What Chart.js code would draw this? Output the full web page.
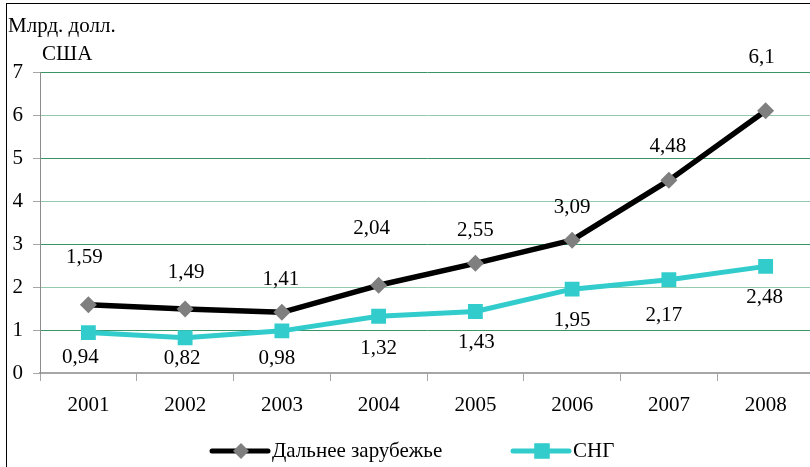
<!DOCTYPE html>
<html>
<head>
<meta charset="utf-8">
<script src="https://cdn.jsdelivr.net/npm/chart.js@4"></script>
<style>
  html, body { margin: 0; padding: 0; background: #fff; overflow: hidden; }
  #wrap { width: 830px; height: 467px; }
</style>
</head>
<body>
<div id="wrap"><canvas id="chart" width="830" height="467"></canvas></div>
<script>
// ===== данные =====
const years = ["2001", "2002", "2003", "2004", "2005", "2006", "2007", "2008"];
const dalneeZarubezhye = [1.59, 1.49, 1.41, 2.04, 2.55, 3.09, 4.48, 6.1];
const sng = [0.94, 0.82, 0.98, 1.32, 1.43, 1.95, 2.17, 2.48];
const yTicks = [0, 1, 2, 3, 4, 5, 6, 7];
const seriesNames = ["Дальнее зарубежье", "СНГ"];
const axisTitle = ["Млрд. долл.", "США"];

const FONT = "21px 'Liberation Serif', 'Times New Roman', serif";
const fmt = (v) => String(v).replace(".", ",");

// сдвиг подписей относительно точек (px), как в оригинале
const labelShift = [
  [[-4, -47], [1, -36], [-1, -33], [-7, -57], [0, -33], [0, -33], [-1, -34], [-4, -53]],
  [[-8, 25], [-3, 21], [-5, 28], [0, 32], [1, 31], [0, 31], [-5, 36], [-1, 31]],
];

// подписи значений
const valueLabels = {
  id: "valueLabels",
  afterDatasetsDraw(chart) {
    const ctx = chart.ctx;
    ctx.save();
    ctx.font = FONT;
    ctx.fillStyle = "#000";
    ctx.textAlign = "center";
    ctx.textBaseline = "middle";
    chart.data.datasets.forEach((ds, di) => {
      chart.getDatasetMeta(di).data.forEach((pt, i) => {
        const [dx, dy] = labelShift[di][i];
        ctx.fillText(fmt(ds.data[i]), pt.x + dx, pt.y + dy);
      });
    });
    ctx.restore();
  },
};

// рамка, подпись оси и легенда
const decor = {
  id: "decor",
  afterDraw(chart) {
    const ctx = chart.ctx;
    ctx.save();
    ctx.strokeStyle = "#000";
    ctx.lineWidth = 1;
    ctx.strokeRect(6.5, 3.5, 900, 600);

    ctx.font = FONT;
    ctx.fillStyle = "#000";
    ctx.textAlign = "left";
    ctx.textBaseline = "alphabetic";
    ctx.fillText(axisTitle[0], 8, 32);
    ctx.fillText(axisTitle[1], 42, 60);

    const y = 451;
    const items = [
      { x: 212, color: "#000000", marker: "#7f7f7f", style: "rectRot", r: 8 },
      { x: 513, color: "#33cccc", marker: "#33cccc", style: "rect", r: 11 },
    ];
    items.forEach((it, i) => {
      ctx.strokeStyle = it.color;
      ctx.lineWidth = 5;
      ctx.lineCap = "round";
      ctx.beginPath();
      ctx.moveTo(it.x, y);
      ctx.lineTo(it.x + 56, y);
      ctx.stroke();
      ctx.fillStyle = it.marker;
      Chart.helpers.drawPoint(ctx, { pointStyle: it.style, radius: it.r, borderWidth: 0 }, it.x + 29, y);
      ctx.fillStyle = "#000";
      ctx.textBaseline = "middle";
      ctx.fillText(seriesNames[i], it.x + 60, y);
    });
    ctx.restore();
  },
};

new Chart(document.getElementById("chart").getContext("2d"), {
  type: "line",
  data: {
    labels: years,
    datasets: [
      {
        label: seriesNames[0],
        data: dalneeZarubezhye,
        borderColor: "#000000",
        borderWidth: 5.5,
        pointStyle: "rectRot",
        pointRadius: 8.5,
        pointBackgroundColor: "#7f7f7f",
        pointBorderColor: "#7f7f7f",
        pointBorderWidth: 0,
        borderJoinStyle: "round",
        tension: 0,
      },
      {
        label: seriesNames[1],
        data: sng,
        borderColor: "#33cccc",
        borderWidth: 5,
        pointStyle: "rect",
        pointRadius: 10.5,
        pointBackgroundColor: "#33cccc",
        pointBorderColor: "#33cccc",
        pointBorderWidth: 0,
        borderJoinStyle: "round",
        tension: 0,
      },
    ],
  },
  options: {
    responsive: false,
    animation: false,
    layout: { padding: { left: 0, right: 16, top: 72, bottom: 0 } },
    plugins: {
      legend: { display: false },
      tooltip: { enabled: false },
    },
    scales: {
      x: {
        offset: true,
        grid: {
          offset: true,
          drawOnChartArea: false,
          drawTicks: true,
          tickLength: 8,
          tickColor: "#a6a6a6",
        },
        border: { display: true, color: "#a6a6a6", width: 2 },
        ticks: { font: { family: "'Liberation Serif'", size: 21 }, color: "#000", padding: 12 },
        afterFit(scale) { scale.height = 94; },
      },
      y: {
        min: 0,
        max: 7,
        afterBuildTicks(scale) { scale.ticks = yTicks.map((v) => ({ value: v })); },
        grid: {
          color: (c) => (c.tick.value === 0 ? "#a6a6a6" : c.tick.value % 2 ? "#3a9566" : "#93c9ad"),
          tickColor: "#a6a6a6",
          tickLength: 7,
        },
        border: { display: true, color: "#8c8c8c", width: 1 },
        ticks: { font: { family: "'Liberation Serif'", size: 21 }, color: "#000", padding: 10 },
        afterFit(scale) { scale.width = 40; },
      },
    },
  },
  plugins: [valueLabels, decor],
});
</script>
</body>
</html>
